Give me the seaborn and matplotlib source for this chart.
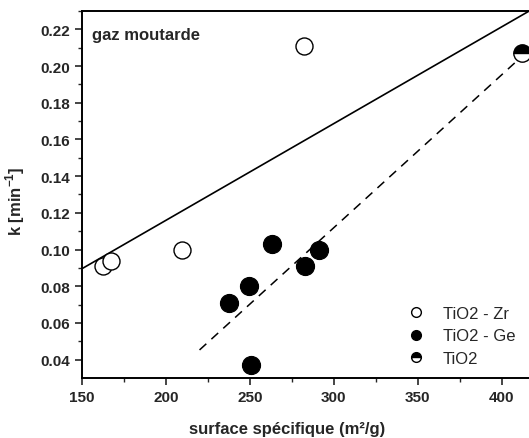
import numpy as np
import pandas as pd
import seaborn as sns
import matplotlib.pyplot as plt
from matplotlib.lines import Line2D

# data
zr_x = [162.5, 167, 209.5, 282]
zr_k = [0.091, 0.094, 0.0995, 0.211]
ge_x = [237.5, 249.5, 250.5, 263, 283, 291]
ge_k = [0.071, 0.080, 0.037, 0.103, 0.091, 0.100]
ti_x = [412]
ti_k = [0.207]

# x range over which each fit line is drawn
fit_zr_range = [150, 420]
fit_ge_range = [220, 412]

sns.set_style("ticks")
plt.rcParams['font.family'] = ['Liberation Sans', 'DejaVu Sans']
plt.rcParams['mathtext.fontset'] = 'custom'
plt.rcParams['mathtext.rm'] = 'Liberation Sans:bold'
plt.rcParams['mathtext.bf'] = 'Liberation Sans:bold'

fig = plt.figure(figsize=(5.29, 4.39), dpi=100)
ax = fig.add_axes([0.155, 0.1367, 0.857, 0.836])

df_zr = pd.DataFrame({'s': zr_x, 'k': zr_k})
df_ge = pd.DataFrame({'s': ge_x, 'k': ge_k})

# linear fits: TiO2-Zr + TiO2 (solid) and TiO2-Ge + TiO2 (dashed)
p1 = np.polyfit(zr_x + ti_x, zr_k + ti_k, 1)
p2 = np.polyfit(ge_x + ti_x, ge_k + ti_k, 1)
xs1 = np.array(fit_zr_range)
xs2 = np.array(fit_ge_range)
ax.plot(xs1, np.polyval(p1, xs1), color='black', lw=1.2, zorder=1)
ax.plot(xs2, np.polyval(p2, xs2), color='black', lw=1.1, ls=(0, (6, 4.5)), zorder=1)

sns.scatterplot(data=df_zr, x='s', y='k', ax=ax, s=150, facecolor='white',
                edgecolor='black', linewidth=1.0, zorder=3)
sns.scatterplot(data=df_ge, x='s', y='k', ax=ax, s=170, color='black',
                edgecolor='black', linewidth=0.8, zorder=3)
ax.plot(ti_x, ti_k, 'o', ms=12.5, color='black', mfc='black', mfcalt='white',
        fillstyle='top', mew=1.0, zorder=3)

ax.set_xlim(150, 420)
ax.set_ylim(0.03, 0.23)
ax.set_xticks([150, 200, 250, 300, 350, 400])
ax.set_xticks([175, 225, 275, 325, 375], minor=True)
ax.set_yticks(np.arange(0.04, 0.2201, 0.02))
ax.set_yticks(np.arange(0.05, 0.2301, 0.02), minor=True)
ax.yaxis.set_major_formatter(plt.FormatStrFormatter('%.2f'))
ax.tick_params(which='major', direction='out', length=5, width=1.2,
               labelsize=11)
ax.tick_params(which='minor', direction='out', length=3, width=1.0)
for lab in ax.get_xticklabels() + ax.get_yticklabels():
    lab.set_fontweight('bold')
for sp in ax.spines.values():
    sp.set_linewidth(1.4)
    sp.set_color('black')

ax.set_xlabel('surface spécifique (m²/g)', fontsize=12, fontweight='bold')
ax.xaxis.set_label_coords(0.452, -0.118)
ax.set_ylabel(r'k [min$^{-1}$]', fontsize=12, fontweight='bold')
ax.yaxis.set_label_coords(-0.121, 0.485)

ax.text(0.022, 0.955, 'gaz moutarde', transform=ax.transAxes, fontsize=12,
        fontweight='bold', va='top', ha='left')

handles = [
    Line2D([], [], marker='o', ls='', ms=7, mfc='white', mec='black'),
    Line2D([], [], marker='o', ls='', ms=7, mfc='black', mec='black'),
    Line2D([], [], marker='o', ls='', ms=7, color='black', mfc='black',
           mfcalt='white', fillstyle='top'),
]
ax.legend(handles, ['TiO2 - Zr', 'TiO2 - Ge', 'TiO2'], loc='upper left',
          bbox_to_anchor=(408 / 529, 1 - 307 / 439),
          bbox_transform=fig.transFigure, frameon=False, fontsize=12,
          borderpad=0, borderaxespad=0, handletextpad=1.1,
          labelspacing=0.45, handlelength=1.0)

fig.savefig('out.png', dpi=100)
